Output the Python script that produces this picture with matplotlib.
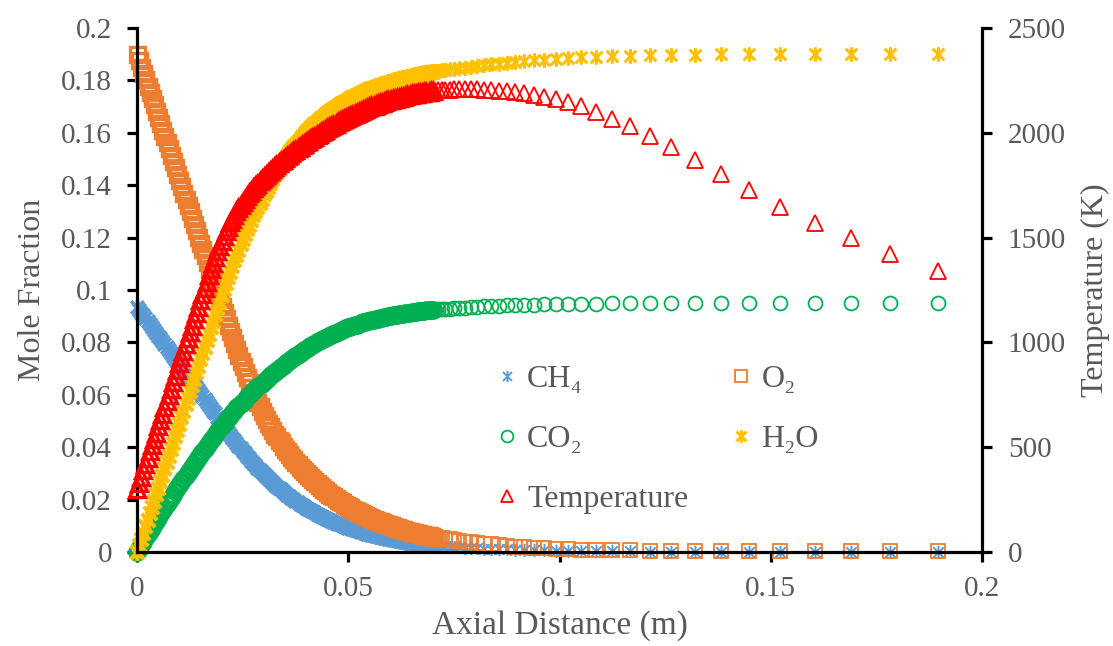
import matplotlib
matplotlib.use('Agg')
import matplotlib.pyplot as plt
from matplotlib.path import Path

# ---------------- data ----------------
axial_distance = [
    0.0000, 0.0005, 0.0010, 0.0015, 0.0020, 0.0025, 0.0030, 0.0035, 0.0040, 0.0045,
    0.0050, 0.0055, 0.0060, 0.0065, 0.0070, 0.0075, 0.0080, 0.0085, 0.0090, 0.0095,
    0.0100, 0.0105, 0.0110, 0.0115, 0.0120, 0.0125, 0.0130, 0.0135, 0.0140, 0.0145,
    0.0150, 0.0155, 0.0160, 0.0165, 0.0170, 0.0175, 0.0180, 0.0185, 0.0190, 0.0195,
    0.0200, 0.0205, 0.0210, 0.0215, 0.0220, 0.0225, 0.0230, 0.0235, 0.0240, 0.0245,
    0.0250, 0.0255, 0.0260, 0.0265, 0.0270, 0.0275, 0.0280, 0.0285, 0.0290, 0.0295,
    0.0300, 0.0305, 0.0310, 0.0315, 0.0320, 0.0325, 0.0330, 0.0335, 0.0340, 0.0345,
    0.0350, 0.0355, 0.0360, 0.0365, 0.0370, 0.0375, 0.0380, 0.0385, 0.0390, 0.0395,
    0.0400, 0.0405, 0.0410, 0.0415, 0.0420, 0.0425, 0.0430, 0.0435, 0.0440, 0.0445,
    0.0450, 0.0455, 0.0460, 0.0465, 0.0470, 0.0475, 0.0480, 0.0485, 0.0490, 0.0495,
    0.0500, 0.0505, 0.0510, 0.0515, 0.0520, 0.0525, 0.0530, 0.0535, 0.0540, 0.0545,
    0.0550, 0.0555, 0.0560, 0.0565, 0.0570, 0.0575, 0.0580, 0.0585, 0.0590, 0.0595,
    0.0600, 0.0605, 0.0610, 0.0615, 0.0620, 0.0625, 0.0630, 0.0635, 0.0640, 0.0645,
    0.0650, 0.0655, 0.0660, 0.0665, 0.0670, 0.0675, 0.0680, 0.0685, 0.0690, 0.0695,
    0.0700,
    0.0706, 0.0713, 0.0721, 0.0730, 0.0740, 0.0751, 0.0763, 0.0776, 0.0790, 0.0805,
    0.0821, 0.0838, 0.0856, 0.0875, 0.0895, 0.0916, 0.0939, 0.0964, 0.0991, 0.1020,
    0.1052, 0.1087, 0.1125, 0.1168, 0.1214, 0.1265, 0.1321, 0.1383, 0.1449, 0.1523,
    0.1605, 0.1691, 0.1782, 0.1895,
]

ch4 = [
    0.0936, 0.0925, 0.0914, 0.0903, 0.0892, 0.0881, 0.0870, 0.0859, 0.0848, 0.0837,
    0.0826, 0.0815, 0.0804, 0.0793, 0.0782, 0.0771, 0.0760, 0.0749, 0.0738, 0.0727,
    0.0716, 0.0705, 0.0694, 0.0683, 0.0672, 0.0661, 0.0650, 0.0639, 0.0628, 0.0617,
    0.0606, 0.0595, 0.0584, 0.0573, 0.0562, 0.0551, 0.0540, 0.0529, 0.0517, 0.0505,
    0.0493, 0.0482, 0.0471, 0.0459, 0.0448, 0.0437, 0.0427, 0.0417, 0.0406, 0.0396,
    0.0386, 0.0377, 0.0367, 0.0358, 0.0348, 0.0339, 0.0331, 0.0322, 0.0314, 0.0305,
    0.0297, 0.0289, 0.0282, 0.0274, 0.0267, 0.0259, 0.0252, 0.0245, 0.0239, 0.0232,
    0.0225, 0.0219, 0.0213, 0.0207, 0.0201, 0.0195, 0.0190, 0.0185, 0.0179, 0.0174,
    0.0169, 0.0164, 0.0160, 0.0155, 0.0151, 0.0146, 0.0142, 0.0138, 0.0134, 0.0130,
    0.0126, 0.0122, 0.0119, 0.0115, 0.0112, 0.0108, 0.0105, 0.0102, 0.0099, 0.0096,
    0.0093, 0.0090, 0.0088, 0.0085, 0.0083, 0.0080, 0.0078, 0.0075, 0.0073, 0.0070,
    0.0068, 0.0066, 0.0064, 0.0062, 0.0060, 0.0058, 0.0056, 0.0054, 0.0053, 0.0051,
    0.0049, 0.0048, 0.0046, 0.0045, 0.0043, 0.0042, 0.0041, 0.0039, 0.0038, 0.0036,
    0.0035, 0.0034, 0.0033, 0.0032, 0.0031, 0.0030, 0.0029, 0.0028, 0.0027, 0.0026,
    0.0025,
    0.0024, 0.0023, 0.0022, 0.0021, 0.0020, 0.0019, 0.0018, 0.0017, 0.0016, 0.0015,
    0.0013, 0.0012, 0.0011, 0.0010, 0.0009, 0.0008, 0.0007, 0.0006, 0.0005, 0.0004,
    0.0003, 0.0003, 0.0002, 0.0002, 0.0001, 0.0001, 0.0001, 0.0001, 0.0001, 0.0001,
    0.0001, 0.0001, 0.0001, 0.0001,
]

o2 = [
    0.1900, 0.1876, 0.1852, 0.1828, 0.1804, 0.1780, 0.1756, 0.1732, 0.1708, 0.1684,
    0.1660, 0.1636, 0.1612, 0.1588, 0.1564, 0.1540, 0.1516, 0.1492, 0.1468, 0.1444,
    0.1420, 0.1396, 0.1372, 0.1348, 0.1324, 0.1300, 0.1276, 0.1252, 0.1228, 0.1204,
    0.1180, 0.1156, 0.1132, 0.1108, 0.1084, 0.1060, 0.1036, 0.1012, 0.0988, 0.0964,
    0.0940, 0.0916, 0.0892, 0.0868, 0.0844, 0.0820, 0.0798, 0.0775, 0.0753, 0.0730,
    0.0708, 0.0688, 0.0668, 0.0648, 0.0628, 0.0608, 0.0591, 0.0574, 0.0556, 0.0539,
    0.0522, 0.0508, 0.0494, 0.0480, 0.0466, 0.0452, 0.0441, 0.0429, 0.0418, 0.0406,
    0.0395, 0.0385, 0.0375, 0.0364, 0.0354, 0.0344, 0.0335, 0.0326, 0.0318, 0.0309,
    0.0300, 0.0292, 0.0285, 0.0277, 0.0270, 0.0262, 0.0255, 0.0249, 0.0242, 0.0236,
    0.0229, 0.0223, 0.0217, 0.0212, 0.0206, 0.0200, 0.0195, 0.0190, 0.0185, 0.0180,
    0.0175, 0.0171, 0.0166, 0.0162, 0.0157, 0.0153, 0.0149, 0.0145, 0.0142, 0.0138,
    0.0134, 0.0131, 0.0127, 0.0124, 0.0120, 0.0117, 0.0114, 0.0111, 0.0108, 0.0105,
    0.0102, 0.0099, 0.0097, 0.0094, 0.0092, 0.0089, 0.0087, 0.0085, 0.0082, 0.0080,
    0.0078, 0.0076, 0.0074, 0.0072, 0.0070, 0.0068, 0.0066, 0.0065, 0.0063, 0.0061,
    0.0059,
    0.0057, 0.0055, 0.0053, 0.0051, 0.0048, 0.0045, 0.0042, 0.0040, 0.0037, 0.0034,
    0.0031, 0.0029, 0.0026, 0.0023, 0.0021, 0.0018, 0.0016, 0.0014, 0.0012, 0.0010,
    0.0009, 0.0008, 0.0007, 0.0006, 0.0005, 0.0004, 0.0004, 0.0003, 0.0003, 0.0003,
    0.0002, 0.0002, 0.0002, 0.0002,
]

co2 = [
    0.0000, 0.0013, 0.0027, 0.0040, 0.0053, 0.0067, 0.0080, 0.0093, 0.0106, 0.0118,
    0.0131, 0.0144, 0.0157, 0.0169, 0.0182, 0.0194, 0.0206, 0.0219, 0.0231, 0.0243,
    0.0255, 0.0267, 0.0279, 0.0291, 0.0302, 0.0314, 0.0326, 0.0337, 0.0349, 0.0360,
    0.0371, 0.0382, 0.0394, 0.0405, 0.0416, 0.0427, 0.0437, 0.0448, 0.0459, 0.0469,
    0.0480, 0.0490, 0.0500, 0.0510, 0.0520, 0.0530, 0.0539, 0.0548, 0.0556, 0.0565,
    0.0574, 0.0582, 0.0590, 0.0598, 0.0606, 0.0614, 0.0621, 0.0628, 0.0636, 0.0643,
    0.0650, 0.0657, 0.0664, 0.0671, 0.0678, 0.0685, 0.0692, 0.0698, 0.0705, 0.0711,
    0.0718, 0.0724, 0.0730, 0.0736, 0.0742, 0.0748, 0.0753, 0.0759, 0.0764, 0.0770,
    0.0775, 0.0780, 0.0785, 0.0790, 0.0795, 0.0800, 0.0804, 0.0809, 0.0813, 0.0818,
    0.0822, 0.0826, 0.0830, 0.0833, 0.0837, 0.0841, 0.0844, 0.0847, 0.0851, 0.0854,
    0.0857, 0.0860, 0.0863, 0.0865, 0.0868, 0.0871, 0.0873, 0.0876, 0.0878, 0.0881,
    0.0883, 0.0885, 0.0887, 0.0889, 0.0891, 0.0893, 0.0895, 0.0897, 0.0898, 0.0900,
    0.0902, 0.0903, 0.0905, 0.0906, 0.0908, 0.0909, 0.0910, 0.0911, 0.0913, 0.0914,
    0.0915, 0.0916, 0.0917, 0.0918, 0.0919, 0.0920, 0.0921, 0.0922, 0.0922, 0.0923,
    0.0924,
    0.0925, 0.0926, 0.0927, 0.0928, 0.0929, 0.0930, 0.0932, 0.0933, 0.0934, 0.0936,
    0.0937, 0.0938, 0.0940, 0.0941, 0.0942, 0.0943, 0.0944, 0.0945, 0.0946, 0.0947,
    0.0948, 0.0948, 0.0949, 0.0949, 0.0950, 0.0950, 0.0950, 0.0950, 0.0950, 0.0950,
    0.0950, 0.0950, 0.0950, 0.0950,
]

h2o = [
    0.0000, 0.0025, 0.0049, 0.0074, 0.0098, 0.0123, 0.0147, 0.0172, 0.0196, 0.0221,
    0.0245, 0.0270, 0.0294, 0.0319, 0.0343, 0.0368, 0.0392, 0.0417, 0.0441, 0.0466,
    0.0490, 0.0515, 0.0539, 0.0564, 0.0588, 0.0613, 0.0637, 0.0662, 0.0686, 0.0711,
    0.0735, 0.0760, 0.0784, 0.0809, 0.0833, 0.0858, 0.0882, 0.0907, 0.0931, 0.0956,
    0.0980, 0.1003, 0.1025, 0.1048, 0.1070, 0.1093, 0.1113, 0.1134, 0.1154, 0.1175,
    0.1195, 0.1213, 0.1231, 0.1249, 0.1267, 0.1285, 0.1301, 0.1317, 0.1333, 0.1349,
    0.1365, 0.1379, 0.1394, 0.1408, 0.1423, 0.1437, 0.1450, 0.1462, 0.1475, 0.1487,
    0.1500, 0.1511, 0.1522, 0.1533, 0.1544, 0.1555, 0.1565, 0.1574, 0.1584, 0.1593,
    0.1603, 0.1611, 0.1619, 0.1626, 0.1634, 0.1642, 0.1649, 0.1655, 0.1662, 0.1668,
    0.1675, 0.1681, 0.1686, 0.1692, 0.1697, 0.1703, 0.1708, 0.1713, 0.1717, 0.1722,
    0.1727, 0.1731, 0.1735, 0.1740, 0.1744, 0.1748, 0.1752, 0.1755, 0.1759, 0.1762,
    0.1766, 0.1769, 0.1772, 0.1775, 0.1778, 0.1781, 0.1784, 0.1786, 0.1789, 0.1791,
    0.1794, 0.1796, 0.1799, 0.1801, 0.1804, 0.1806, 0.1808, 0.1810, 0.1812, 0.1814,
    0.1816, 0.1818, 0.1820, 0.1821, 0.1823, 0.1825, 0.1827, 0.1828, 0.1830, 0.1831,
    0.1833,
    0.1834, 0.1836, 0.1838, 0.1840, 0.1842, 0.1844, 0.1847, 0.1849, 0.1852, 0.1855,
    0.1858, 0.1861, 0.1864, 0.1867, 0.1870, 0.1873, 0.1876, 0.1879, 0.1882, 0.1885,
    0.1888, 0.1890, 0.1892, 0.1894, 0.1896, 0.1897, 0.1898, 0.1899, 0.1899, 0.1900,
    0.1900, 0.1900, 0.1900, 0.1900,
]

temperature = [
    300, 330, 360, 390, 420, 450, 480, 510, 540, 570,
    600, 630, 660, 690, 720, 750, 780, 810, 840, 870,
    900, 930, 960, 990, 1020, 1050, 1080, 1110, 1140, 1170,
    1200, 1230, 1260, 1290, 1320, 1350, 1380, 1408, 1435, 1461,
    1486, 1509, 1531, 1552, 1572, 1591, 1609, 1626, 1642, 1657,
    1671, 1685, 1698, 1711, 1723, 1735, 1747, 1758, 1769, 1780,
    1790, 1800, 1810, 1820, 1829, 1838, 1847, 1856, 1864, 1872,
    1880, 1888, 1896, 1903, 1911, 1919, 1926, 1933, 1941, 1948,
    1955, 1962, 1969, 1975, 1982, 1989, 1995, 2002, 2008, 2015,
    2021, 2027, 2033, 2038, 2044, 2050, 2055, 2061, 2066, 2072,
    2077, 2082, 2087, 2091, 2096, 2101, 2105, 2109, 2114, 2118,
    2122, 2126, 2130, 2133, 2137, 2141, 2144, 2147, 2151, 2154,
    2157, 2160, 2163, 2165, 2168, 2171, 2173, 2176, 2178, 2181,
    2183, 2185, 2187, 2188, 2190, 2192, 2193, 2195, 2196, 2198,
    2199,
    2200, 2202, 2203, 2205, 2206, 2207, 2208, 2208, 2208, 2207,
    2206, 2204, 2201, 2198, 2194, 2189, 2182, 2172, 2161, 2146,
    2126, 2101, 2068, 2030, 1986, 1933, 1871, 1802, 1727, 1647,
    1571, 1500, 1422, 1341,
]

series_labels = ['CH₄', 'O₂', 'CO₂', 'H₂O', 'Temperature']

x_ticks = [0, 0.05, 0.1, 0.15, 0.2]
x_tick_labels = ['0', '0.05', '0.1', '0.15', '0.2']
y_ticks = [0, 0.02, 0.04, 0.06, 0.08, 0.1, 0.12, 0.14, 0.16, 0.18, 0.2]
y_tick_labels = ['0', '0.02', '0.04', '0.06', '0.08', '0.1', '0.12', '0.14',
                 '0.16', '0.18', '0.2']
t_ticks = [0, 500, 1000, 1500, 2000, 2500]
t_tick_labels = ['0', '500', '1000', '1500', '2000', '2500']

# ---------------- style ----------------
plt.rcParams['font.family'] = ['Liberation Serif', 'DejaVu Serif']
TEXT = '#595959'
TICK_FS = 21
TITLE_FS = 23
LEG_FS = 23

# the first points (up to x = 0.07) lie so close together that their
# outlines merge into a solid band; they get a heavier outline
N_DENSE = 141

fig = plt.figure(figsize=(11.13, 6.46), dpi=100)
ax = fig.add_axes([0.1231, 0.1455, 0.7592, 0.8112])
ax2 = ax.twinx()

M, L = Path.MOVETO, Path.LINETO
asterisk = Path([(-1, -1), (1, 1), (-1, 1), (1, -1), (0, -1.25), (0, 1.25)],
                [M, L, M, L, M, L])

styles = {
    'ch4': dict(marker=asterisk, ms=9.5, mec='#5B9BD5', mew=1.4),
    'o2': dict(marker='s', ms=9.8, mec='#ED7D31', mew=1.3),
    'co2': dict(marker='o', ms=10.0, mec='#00B050', mew=1.3),
    'h2o': dict(marker=asterisk, ms=10.5, mec='#FFC000', mew=2.2),
    'temp': dict(marker='^', ms=11.0, mec='#FF0000', mew=1.3),
}
dense_mew = {'ch4': 2.6, 'o2': 2.4, 'co2': 2.4, 'h2o': 3.0, 'temp': 2.4}
dense_ms = {'ch4': 11.5, 'o2': 10.8, 'co2': 11.0, 'h2o': 12.0, 'temp': 11.8}


def draw(axis, key, values):
    st = dict(styles[key])
    thin_mew = st.pop('mew')
    thin_ms = st.pop('ms')
    axis.plot(axial_distance[:N_DENSE], values[:N_DENSE], linestyle='none',
              mfc='none', mew=dense_mew[key], ms=dense_ms[key], clip_on=False,
              **st)
    h, = axis.plot(axial_distance[N_DENSE:], values[N_DENSE:], linestyle='none',
                   mfc='none', mew=thin_mew, ms=thin_ms, clip_on=False, **st)
    return h


h_ch4 = draw(ax, 'ch4', ch4)
h_o2 = draw(ax, 'o2', o2)
h_co2 = draw(ax, 'co2', co2)
h_h2o = draw(ax, 'h2o', h2o)
h_t = draw(ax2, 'temp', temperature)

ax.set_xlim(0, 0.2)
ax.set_ylim(0, 0.2)
ax2.set_ylim(0, 2500)

ax.set_xticks(x_ticks, labels=x_tick_labels)
ax.set_yticks(y_ticks, labels=y_tick_labels)
ax2.set_yticks(t_ticks, labels=t_tick_labels)

for a in (ax, ax2):
    for s in a.spines.values():
        s.set_linewidth(2.3)
        s.set_color('black')
ax.spines['top'].set_visible(False)
ax.spines['right'].set_visible(False)
ax2.spines['top'].set_visible(False)
ax2.spines['left'].set_visible(False)
ax2.spines['bottom'].set_visible(False)

ax.tick_params(axis='both', direction='out', length=7, width=2.3, color='black',
               labelsize=TICK_FS, labelcolor=TEXT)
ax.tick_params(axis='y', pad=11)
ax.tick_params(axis='x', pad=10)
ax2.tick_params(axis='y', direction='out', length=7, width=2.3, color='black',
                labelsize=TICK_FS, labelcolor=TEXT, pad=11.5)

ax.set_xlabel('Axial Distance (m)', fontsize=24, color=TEXT)
ax.xaxis.set_label_coords(0.5, -0.112)
ax.set_ylabel('Mole Fraction', fontsize=TITLE_FS, color=TEXT)
ax.yaxis.set_label_coords(-0.106, 0.5)
ax2.set_ylabel('Temperature (K)', fontsize=TITLE_FS, color=TEXT)
ax2.yaxis.set_label_coords(1.117, 0.5)

handles = [h_ch4, h_co2, h_t, h_o2, h_h2o]
labels = [series_labels[0], series_labels[2], series_labels[4],
          series_labels[1], series_labels[3]]
leg = ax2.legend(handles, labels, ncol=2, loc='upper left',
                 bbox_to_anchor=(0.4483, 0.4353), bbox_transform=fig.transFigure,
                 frameon=False, fontsize=LEG_FS, handlelength=0.5,
                 handletextpad=0.38, columnspacing=1.41, labelspacing=0.96,
                 borderpad=0, borderaxespad=0, labelcolor=TEXT, markerscale=0.85)

fig.savefig('out.png', dpi=100)
